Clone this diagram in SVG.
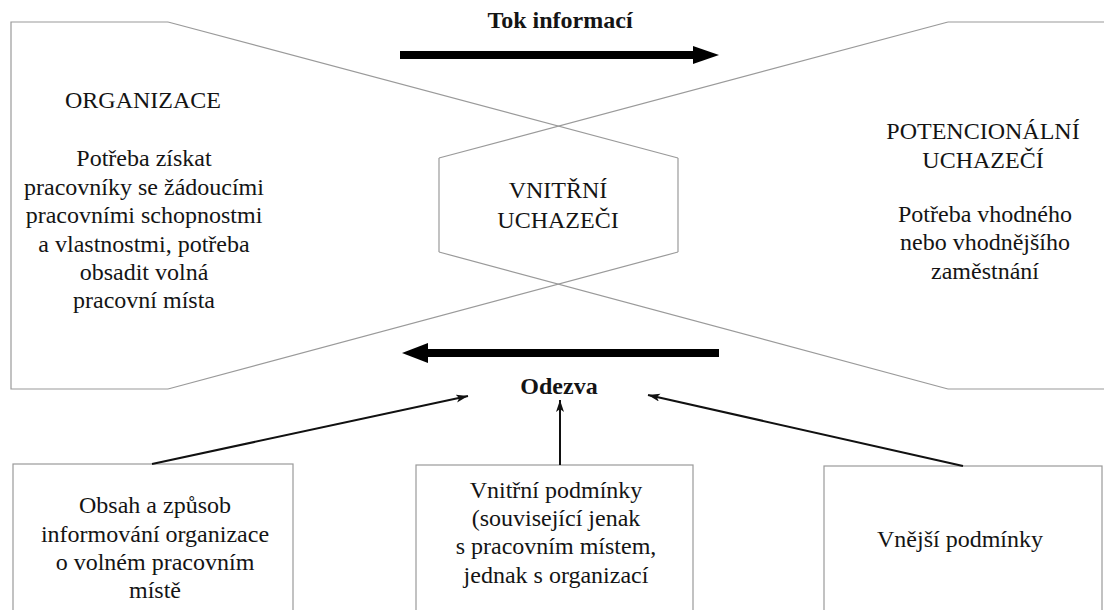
<svg xmlns="http://www.w3.org/2000/svg" width="1104" height="610" viewBox="0 0 1104 610">
<defs>
<style>
.t{font-family:"Liberation Serif","Times New Roman",serif;font-size:24px;fill:#141414;text-anchor:middle}
.b{font-weight:bold}
.frame{fill:none;stroke:#9a9a9a;stroke-width:1.2}
.box{fill:#fff;stroke:#9a9a9a;stroke-width:1.2}
.thin{stroke:#111;stroke-width:2;fill:none;marker-end:url(#ah)}
.thick{stroke:#000;stroke-width:8;fill:none}
</style>
<marker id="ah" markerUnits="userSpaceOnUse" markerWidth="14" markerHeight="10" refX="12" refY="4" orient="auto">
<path d="M0,0 L12,4 L0,8 L3,4 Z" fill="#111"/>
</marker>
</defs>
<rect width="1104" height="610" fill="#fff"/>

<g id="organizace">
<polyline class="frame" points="168,22 11,22 11,389 168,389"/>
<text class="t" x="143" y="108">ORGANIZACE</text>
<text class="t" x="144" y="166">Potřeba získat</text>
<text class="t" x="144" y="195">pracovníky se žádoucími</text>
<text class="t" x="144" y="223">pracovními schopnostmi</text>
<text class="t" x="144" y="252">a vlastnostmi, potřeba</text>
<text class="t" x="144" y="280">obsadit volná</text>
<text class="t" x="144" y="308">pracovní místa</text>
</g>

<g id="potencionalni">
<polyline class="frame" points="948,22 1104,22"/>
<polyline class="frame" points="948,389 1104,389"/>
<text class="t" x="983" y="139">POTENCIONÁLNÍ</text>
<text class="t" x="983" y="168">UCHAZEČÍ</text>
<text class="t" x="985" y="222">Potřeba vhodného</text>
<text class="t" x="985" y="250">nebo vhodnějšího</text>
<text class="t" x="985" y="279">zaměstnání</text>
</g>

<g id="vnitrni">
<line class="frame" x1="439" y1="158" x2="439" y2="252"/>
<line class="frame" x1="678" y1="158" x2="678" y2="252"/>
<text class="t" x="558" y="198">VNITŘNÍ</text>
<text class="t" x="558" y="228">UCHAZEČI</text>
</g>

<g id="cross-lines">
<line class="frame" x1="168" y1="22" x2="678" y2="158"/>
<line class="frame" x1="948" y1="22" x2="439" y2="158"/>
<line class="frame" x1="168" y1="389" x2="678" y2="252"/>
<line class="frame" x1="948" y1="389" x2="439" y2="252"/>
</g>

<g id="tok">
<text class="t b" x="560" y="28">Tok informací</text>
</g>
<g id="odezva">
<text class="t b" x="559" y="394">Odezva</text>
</g>

<g id="box-obsah">
<rect class="box" x="13" y="464" width="280" height="160"/>
<text class="t" x="155" y="513">Obsah a způsob</text>
<text class="t" x="155" y="542">informování organizace</text>
<text class="t" x="155" y="570">o volném pracovním</text>
<text class="t" x="155" y="598">místě</text>
</g>

<g id="box-vnitrni">
<rect class="box" x="416" y="465" width="277" height="160"/>
<text class="t" x="556" y="498">Vnitřní podmínky</text>
<text class="t" x="556" y="526">(související jenak</text>
<text class="t" x="556" y="554">s pracovním místem,</text>
<text class="t" x="556" y="583">jednak s organizací</text>
</g>

<g id="box-vnejsi">
<rect class="box" x="824" y="466" width="278" height="160"/>
<text class="t" x="960" y="547">Vnější podmínky</text>
</g>

<g id="connectors">
<line class="thick" x1="400" y1="55" x2="696" y2="55"/>
<polygon points="693,46 719,55 693,64" fill="#000"/>
<line class="thick" x1="719" y1="353" x2="425" y2="353"/>
<polygon points="428,343 402,353 428,363" fill="#000"/>
<line class="thin" x1="152" y1="464" x2="468" y2="396"/>
<line class="thin" x1="560" y1="465" x2="560" y2="400"/>
<line class="thin" x1="963" y1="466" x2="648" y2="395"/>
</g>
</svg>
